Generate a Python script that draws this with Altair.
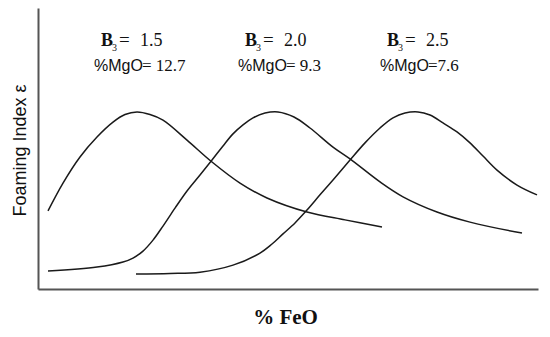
import altair as alt
import pandas as pd

# Curves (arbitrary units: x 0-100 = % FeO axis, y 0-100 = foaming index axis)
c1_x = [2.0, 5.0, 8.4, 11.8, 15.0, 17.4, 19.8, 22.4, 25.0, 29.8, 34.8, 40.4, 45.8, 53.8, 61.4, 68.8]
c1_y = [27.8, 37.7, 47.0, 54.1, 59.4, 62.1, 63.0, 62.1, 60.1, 53.0, 45.2, 37.7, 32.4, 27.4, 24.6, 22.1]

c2_x = [2.0, 11.8, 17.0, 19.0, 21.0, 23.0, 25.0, 27.4, 29.8, 32.4, 34.8, 37.0, 39.0, 41.0, 43.0,
        45.4, 48.0, 51.2, 54.4, 59.0, 62.4, 68.4, 73.0, 79.8, 86.4, 96.8]
c2_y = [6.4, 7.8, 9.6, 11.0, 13.5, 17.4, 22.4, 28.8, 34.9, 40.6, 45.9, 50.9, 55.2, 58.4, 60.9,
        62.6, 63.0, 61.2, 57.3, 50.5, 46.3, 38.1, 32.8, 27.4, 23.8, 19.9]

c3_x = [19.6, 26.4, 32.4, 39.0, 44.4, 46.8, 49.0, 51.4, 53.8, 56.4, 59.0, 62.4, 65.4, 68.4, 71.0,
        73.4, 76.0, 78.4, 81.0, 83.8, 86.4, 89.0, 91.8, 95.8, 99.8]
c3_y = [5.3, 5.5, 6.0, 8.5, 12.8, 16.0, 19.6, 23.5, 28.1, 33.5, 38.8, 45.9, 52.0, 57.3, 60.9,
        62.6, 63.0, 61.9, 59.1, 55.9, 52.0, 47.3, 42.3, 37.0, 33.5]

series_names = ["B3 = 1.5", "B3 = 2.0", "B3 = 2.5"]

# Annotations
b3_values = ["1.5", "2.0", "2.5"]
mgo_values = ["= 12.7", "= 9.3", "=7.6"]
label_x = [12.6, 41.4, 69.8]
b3_label_y = [86.5, 86.5, 86.5]
mgo_label_y = [77.6, 77.6, 77.6]

rows = []
for name, xs, ys in zip(series_names, [c1_x, c2_x, c3_x], [c1_y, c2_y, c3_y]):
    for i, (xv, yv) in enumerate(zip(xs, ys)):
        rows.append({"series": name, "x": xv, "y": yv, "order": i})
curves = pd.DataFrame(rows)

annot = pd.DataFrame({
    "ax": label_x,
    "by": b3_label_y,
    "my": mgo_label_y,
    "bval": b3_values,
    "mval": mgo_values,
})

SERIF = "Liberation Serif"
SANS = "Liberation Sans"

xscale = alt.Scale(domain=[0, 100], nice=False, zero=False)
yscale = alt.Scale(domain=[0, 100], nice=False, zero=False)

x_axis = alt.Axis(
    title="% FeO", labels=False, ticks=False, grid=False,
    domainColor="#555555", domainWidth=2,
    titleFont=SERIF, titleFontWeight="bold", titleFontSize=21,
    titleColor="#111111", titleX=247, titleY=34, titleAlign="center",
    titleBaseline="alphabetic")
y_axis = alt.Axis(
    title="Foaming Index ε", labels=False, ticks=False, grid=False,
    domainColor="#555555", domainWidth=2,
    titleFont=SANS, titleFontWeight="normal", titleFontSize=18,
    titleColor="#111111", titleAngle=270, titleX=-13, titleY=142,
    titleAlign="center", titleBaseline="alphabetic")

lines = alt.Chart(curves).mark_line(
    color="#1a1a1a", strokeWidth=1.5, interpolate="catmull-rom"
).encode(
    x=alt.X("x:Q", scale=xscale, axis=x_axis),
    y=alt.Y("y:Q", scale=yscale, axis=y_axis),
    detail="series:N",
    order="order:Q",
)

base = alt.Chart(annot)
ax_enc = alt.X("ax:Q", scale=xscale, axis=x_axis)
by_enc = alt.Y("by:Q", scale=yscale, axis=y_axis)
my_enc = alt.Y("my:Q", scale=yscale, axis=y_axis)

b_letter = base.mark_text(
    text="B", font=SERIF, fontWeight="bold", fontSize=18, align="left",
    baseline="alphabetic", color="#111111"
).encode(x=ax_enc, y=by_enc)

b_sub = base.mark_text(
    text="3", font=SERIF, fontSize=10, align="left", baseline="alphabetic",
    dx=11, dy=5, color="#111111"
).encode(x=ax_enc, y=by_enc)

b_eq = base.mark_text(
    text="=", font=SERIF, fontSize=19, align="left", baseline="alphabetic",
    dx=18, color="#111111"
).encode(x=ax_enc, y=by_enc)

b_val = base.mark_text(
    font=SERIF, fontSize=18, align="left", baseline="alphabetic",
    dx=39, color="#111111"
).encode(x=ax_enc, y=by_enc, text="bval:N")

m_lab = base.mark_text(
    text="%MgO", font=SANS, fontSize=16, align="left", baseline="alphabetic",
    dx=-7, color="#111111"
).encode(x=ax_enc, y=my_enc)

m_val = base.mark_text(
    font=SERIF, fontSize=17, align="left", baseline="alphabetic",
    dx=41, color="#111111"
).encode(x=ax_enc, y=my_enc, text="mval:N")

chart = alt.layer(lines, b_letter, b_sub, b_eq, b_val, m_lab, m_val).properties(
    width=500, height=281,
    padding={"left": 30, "top": 0, "right": 4, "bottom": 45},
    autosize="none",
).configure(background="white").configure_view(stroke=None)

chart.save("out.html", embed_options={"renderer": "svg", "actions": False})
